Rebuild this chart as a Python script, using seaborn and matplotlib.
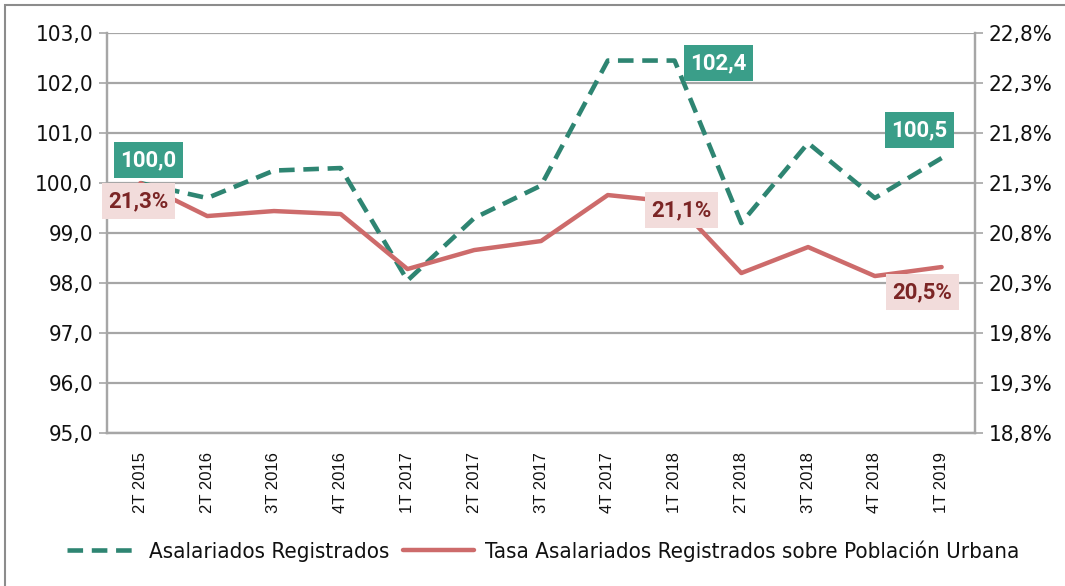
import numpy as np
import pandas as pd
import matplotlib.pyplot as plt
import matplotlib.patches as patches
import seaborn as sns

trimestres = ['2T 2015', '2T 2016', '3T 2016', '4T 2016', '1T 2017', '2T 2017', '3T 2017',
              '4T 2017', '1T 2018', '2T 2018', '3T 2018', '4T 2018', '1T 2019']
asalariados = [100.0, 99.7, 100.25, 100.3, 98.05, 99.3, 99.95, 102.45, 102.45, 99.2, 100.8, 99.7, 100.5]
tasa = [21.3, 20.97, 21.02, 20.99, 20.44, 20.63, 20.72, 21.18, 21.11, 20.40, 20.66, 20.37, 20.46]

df = pd.DataFrame({'trim': trimestres, 'asal': asalariados, 'tasa': tasa})

verde = '#2E8572'
verde_caja = '#3A9E89'
rojo = '#CD6B6B'
rosa_caja = '#F2DCDB'
texto_rojo = '#7B2525'
gris = '#A6A6A6'

sns.set_style('white')
plt.rcParams['font.family'] = ['DejaVu Sans']
plt.rcParams['font.stretch'] = 'condensed'
plt.rcParams['text.color'] = '#111111'
plt.rcParams['xtick.labelcolor'] = '#111111'
plt.rcParams['ytick.labelcolor'] = '#111111'

fig = plt.figure(figsize=(10.65, 5.86), dpi=100)
ax = fig.add_axes([0.1005, 0.261, 0.815, 0.6826])
ax2 = ax.twinx()

sns.lineplot(x='trim', y='asal', data=df, ax=ax, color=verde, linewidth=3.3,
             sort=False, label='Asalariados Registrados')
ax.lines[0].set_dashes([3.4, 1.9])
sns.lineplot(x='trim', y='tasa', data=df, ax=ax2, color=rojo, linewidth=3.2,
             sort=False, label='Tasa Asalariados Registrados sobre Población Urbana')

ax.set_xlim(-0.5, 12.5)
ax.set_ylim(95, 103)
ax2.set_ylim(18.8, 22.8)
ax.set_yticks(np.arange(95, 103.01, 1))
ax.set_yticklabels([f'{v:.1f}'.replace('.', ',') for v in np.arange(95, 103.01, 1)])
ax2.set_yticks(np.arange(18.8, 22.81, 0.5))
ax2.set_yticklabels([f'{v:.1f}%'.replace('.', ',') for v in np.arange(18.8, 22.81, 0.5)])

ax.grid(axis='y', color=gris, linewidth=1.6)
ax.set_axisbelow(True)
ax.set_xlabel('')
ax.set_ylabel('')
ax2.set_ylabel('')

ax.set_xticks(range(len(trimestres)))
ax.set_xticklabels(trimestres, rotation=90, fontsize=12, family=['Liberation Sans', 'DejaVu Sans'],
                   stretch='normal')
ax.set_xticks(np.arange(-0.5, 13, 1), minor=True)
ax.tick_params(axis='x', which='major', length=0, pad=14)
ax.tick_params(axis='x', which='minor', length=6, color=gris, width=1.2)
ax.tick_params(axis='y', length=6, color=gris, width=1.2, labelsize=16, pad=4)
ax2.tick_params(axis='y', length=6, color=gris, width=1.2, labelsize=16, pad=4)

for a in (ax, ax2):
    for s in a.spines.values():
        s.set_color(gris)
        s.set_linewidth(1.6)
    a.spines['top'].set_visible(False)

# etiquetas con caja
caja_v = dict(boxstyle='square,pad=0.3', fc=verde_caja, ec='none')
caja_r = dict(boxstyle='square,pad=0.3', fc=rosa_caja, ec='none')
fuente = dict(fontsize=16, fontweight='bold', family=['Roboto', 'DejaVu Sans'], stretch='normal',
              ha='center', va='center', textcoords='offset pixels')
ax.annotate('100,0', xy=(0, 100.0), xytext=(8, 23), color='white', bbox=caja_v, **fuente)
ax.annotate('102,4', xy=(8, 102.4), xytext=(44, 0), color='white', bbox=caja_v, **fuente)
ax.annotate('100,5', xy=(12, 100.5), xytext=(-22, 28), color='white', bbox=caja_v, **fuente)
ax2.annotate('21,3%', xy=(0, 21.3), xytext=(-2, -18), color=texto_rojo, bbox=caja_r, **fuente)
ax2.annotate('21,1%', xy=(8, 21.1), xytext=(7, -7), color=texto_rojo, bbox=caja_r, **fuente)
ax2.annotate('20,5%', xy=(12, 20.46), xytext=(-19, -25), color=texto_rojo, bbox=caja_r, **fuente)

# leyenda conjunta
h1, l1 = ax.get_legend_handles_labels()
h2, l2 = ax2.get_legend_handles_labels()
ax.get_legend().remove()
ax2.get_legend().remove()
fig.legend(h1 + h2, l1 + l2, loc='center', bbox_to_anchor=(0.51, 0.06), ncol=2,
           frameon=False, fontsize=16, handlelength=3.2, columnspacing=0.6, handletextpad=0.5)

# marco del gráfico
fig.patches.append(patches.Rectangle((0.005, -0.01), 1.2, 1.002, transform=fig.transFigure,
                                     fill=False, ec='#8C8C8C', lw=1.5))

plt.savefig('out.png', dpi=100)
